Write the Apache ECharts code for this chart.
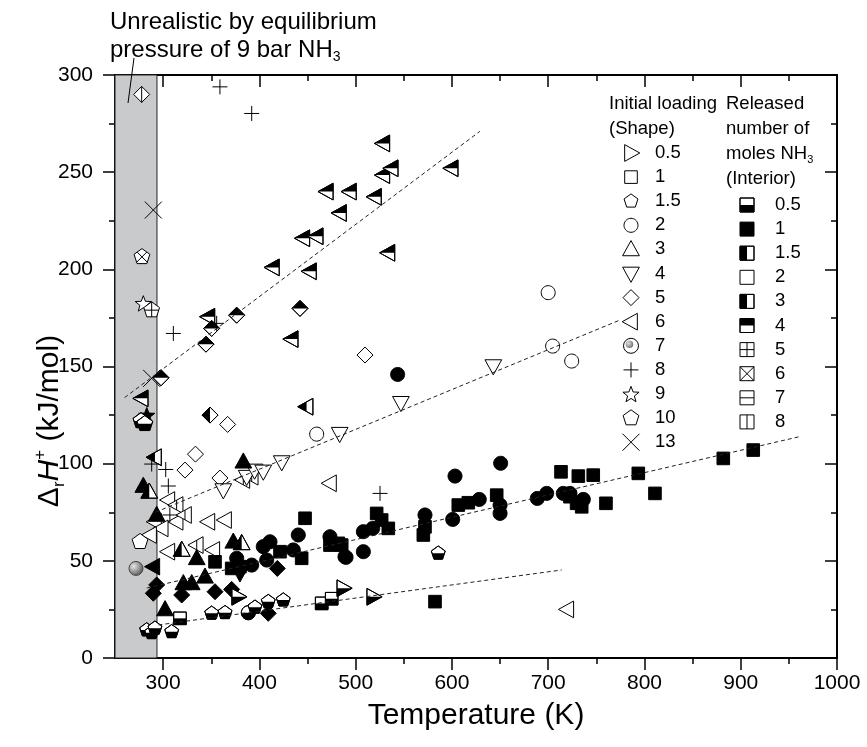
<!DOCTYPE html>
<html>
<head>
<meta charset="utf-8">
<script src="https://cdn.jsdelivr.net/npm/echarts@6/dist/echarts.min.js"></script>
<style>
  html, body { margin: 0; padding: 0; background: #fff; }
  #chart { width: 867px; height: 747px; }
</style>
</head>
<body>
<div id="chart"></div>
<script>
// ─── Data (temperature K, ΔrH+ kJ/mol), grouped by shape + interior ───────

// loading 6 (◁)
const triL_top   = [[414,201],[452.5,199],[445.6,216],[459.5,217],[470,240],[494,240],[483.7,229],[520,237.3],[528.7,248.5],[537.4,252],[528.7,264.8],[599.7,252],[534,208.5],[347,175.6],[433.5,164.1],[277.7,133.6]];
const triL_left  = [[449,129.3],[291.5,103.3]];
const triL_open  = [[473.3,89.9],[347,70.1],[364.3,71],[314,70.1],[291.5,70.1],[298.5,66.7],[286.4,63.3],[305.4,54.7],[352.1,55.6],[305.4,81.3],[719.8,25]];
const triL_vline = [[314,78.7],[322.7,73.6],[334.9,58.1],[383.3,91.6],[392,93.3]];
const triL_full  = [[289.8,47]];
// loading 5 (◇)
const diam_top   = [[442.2,179.9],[350.4,169.6],[376.4,176.4],[344.5,161.5],[297.8,144.2]];
const diam_left  = [[348.7,125]];
const diam_open  = [[367,120.2],[509.7,155.9],[333.6,104.9],[322.7,96.7],[359,92.6]];
const diam_full  = [[293.3,37.6],[289.8,33.3],[319.3,32.4],[353.9,34.1],[371.2,35.3],[409.2,23],[418.6,46.1]];
const diam_vline = [[277.7,290]];
// loading 2 (○)
const circ_open  = [[700,188],[704.6,160.5],[724.4,152.8],[459.5,115.2]];
const circ_full  = [[543.6,145.9],[603.2,93.6],[650.6,100.2],[473.3,62.4],[490,51.8],[508,54.7],[508,65],[517.7,66.7],[572,73.6],[600.8,71.3],[628.4,81.6],[650,78.7],[650,74.4],[688.7,82.1],[698.4,84.7],[715.7,84.7],[722.6,84.7],[736.5,81.6],[404,57.3],[411,59.8],[440.4,63.3],[488.9,52.1],[376.4,51.3],[392,47.8],[435.2,55.6],[407.6,50.4]];
const circ_bottom = [[388.5,23.3]];
// loading 4 (▽)
const triD_open  = [[362.5,86.4],[386.8,93.3],[395,96.5],[404,96],[423.2,100.8],[483.4,115.4],[547,131.3],[643,150.2]];
const triD_full  = [[379.8,43.6]];
// loading 3 (△)
const triU_full  = [[383.3,101],[279.4,88.5],[293.3,73.6],[334.9,51.3],[372.9,59.8],[321,38.4],[329.7,38.4],[343.5,41.8],[302,25]];
const triU_left  = [[285.6,85.5],[381.6,59],[319.3,55.6]];
// loading 1 (□)
const sq_full    = [[713.3,95.8],[731.3,93.6],[746.8,94.1],[485.5,58.1],[521.8,74.4],[527,71],[533.9,66.7],[572,67.5],[570.3,63.3],[606.6,78.7],[617,79.9],[646.5,83.8],[722.6,83],[729.5,79.6],[734.8,77.8],[760,79.6],[582.4,29],[793.6,95],[881.9,102.7],[913,107],[810.9,84.7],[421.4,54.7],[443.9,51.3],[447.4,71.9],[473.3,58.1],[482,59],[353.9,49.5],[371.2,46.1],[379.8,47]];
const sq_bottom  = [[317.5,20.4],[464.7,28.1],[475.1,30.5]];
// loading 0.5 (▷)
const triR_bottom = [[487.2,35.9],[518.3,31.5],[378,31.5]];
// loading 1.5 (small pentagon)
const pent_bottom = [[282.9,14.4],[288.1,13],[291.5,15.3],[308.9,13.5],[350.4,23],[364.3,23.3],[395.4,26.1],[409.2,29],[424.8,29.8],[585.8,53.9]];
// loading 7, 8, 9, 10, 13
const ballPts     = [[271.8,46.1]];
const plusPts     = [[359,293.9],[392,280.2],[355.6,172.2],[310.6,167],[288.1,99.8],[302.7,97],[305.4,88.5],[307,73.6],[525.3,84.7]];
const star_open   = [[279.4,182.5]];
const star_full   = [[283,125]];
const pent10_plus = [[288.1,179]];
const pent10_x    = [[278,206.4]];
const pent10_open = [[276,59.8]];
const pent10_bottom = [[277,122],[281,120.5]];
const crossPts    = [[289.8,230.5],[288.1,143.9]];

// dashed linear trends
const trend1 = [[260,134],[629,271]];
const trend2 = [[292,75],[775,174]];
const trend3 = [[283,36],[962,114]];
const trend4 = [[295,17],[714,45.3]];

// shaded "unrealistic" temperature band
const bandX = [250, 293.6];

const xMajor = [300,400,500,600,700,800,900,1000];
const xMinor = [350,450,550,650,750,850,950];

const loadingLegend = [
  ['triRight','0.5'],['square','1'],['pentS','1.5'],['circle','2'],['triUp','3'],['triDown','4'],
  ['diamond','5'],['triLeft','6'],['ring','7'],['plus','8'],['star','9'],['pentagon','10'],['cross','13']
];
const interiorLegend = [
  ['bottom','0.5'],['full','1'],['left','1.5'],['none','2'],['left','3'],['top','4'],
  ['plus','5'],['x','6'],['hline','7'],['vline','8']
];

// ─── Marker geometry ──────────────────────────────────────────────────────

const FONT = '"Liberation Sans", Arial, sans-serif';

function regPoly(n, r, rot) {
  const pts = [];
  for (let i = 0; i < n; i++) {
    const a = rot + 2 * Math.PI * i / n;
    pts.push([r * Math.cos(a), r * Math.sin(a)]);
  }
  return pts;
}

function starPoly(r) {
  const pts = [];
  for (let i = 0; i < 10; i++) {
    const a = -Math.PI / 2 + Math.PI * i / 5;
    const rr = i % 2 ? r * 0.42 : r;
    pts.push([rr * Math.cos(a), rr * Math.sin(a) + r * 0.1]);
  }
  return pts;
}

const SHAPES = {
  square:   r => [[-r,-r],[r,-r],[r,r],[-r,r]],
  diamond:  r => [[0,-r],[r,0],[0,r],[-r,0]],
  triUp:    r => [[0,-r],[r*0.95,r*0.72],[-r*0.95,r*0.72]],
  triDown:  r => [[0,r],[r*0.95,-r*0.72],[-r*0.95,-r*0.72]],
  triLeft:  r => [[-r,0],[r*0.72,-r*0.95],[r*0.72,r*0.95]],
  triRight: r => [[r,0],[-r*0.72,-r*0.95],[-r*0.72,r*0.95]],
  pentagon: r => regPoly(5, r, -Math.PI / 2),
  pentS:    r => regPoly(5, r, -Math.PI / 2),
  circle:   r => regPoly(36, r, 0),
  star:     r => starPoly(r)
};

const HALF = {
  bottom: p => -p[1],
  top:    p => p[1],
  left:   p => p[0]
};

// Sutherland–Hodgman against one half-plane (keep test(p) <= 0)
function clipPoly(poly, test) {
  const out = [];
  for (let i = 0; i < poly.length; i++) {
    const a = poly[i], b = poly[(i + 1) % poly.length];
    const fa = test(a), fb = test(b);
    if (fa <= 0) out.push(a);
    if ((fa < 0 && fb > 0) || (fa > 0 && fb < 0)) {
      const t = fa / (fa - fb);
      out.push([a[0] + t * (b[0] - a[0]), a[1] + t * (b[1] - a[1])]);
    }
  }
  return out;
}

// distance from centre to polygon edge along direction d
function rayHit(poly, d) {
  let best = 0;
  for (let i = 0; i < poly.length; i++) {
    const a = poly[i], b = poly[(i + 1) % poly.length];
    const e = [b[0] - a[0], b[1] - a[1]];
    const den = d[0] * e[1] - d[1] * e[0];
    if (Math.abs(den) < 1e-9) continue;
    const t = (a[0] * e[1] - a[1] * e[0]) / den;
    const s = (a[0] * d[1] - a[1] * d[0]) / den;
    if (t > 0 && s >= -1e-6 && s <= 1 + 1e-6) best = Math.max(best, t);
  }
  return best;
}

const LINE_DIRS = {
  plus:  [[1,0],[0,1]],
  x:     [[1,1],[1,-1]],
  hline: [[1,0]],
  vline: [[0,1]]
};

function seg(x1, y1, x2, y2, w) {
  return { type: 'line', shape: { x1, y1, x2, y2 }, style: { stroke: '#000', lineWidth: w || 1 } };
}

function markerEls(shape, fill, r) {
  if (shape === 'plus') return [seg(-r, 0, r, 0), seg(0, -r, 0, r)];
  if (shape === 'cross') return [seg(-r, -r, r, r), seg(-r, r, r, -r)];
  if (shape === 'ball') {
    return [{ type: 'circle', shape: { cx: 0, cy: 0, r },
      style: { stroke: '#444', lineWidth: 1,
        fill: new echarts.graphic.RadialGradient(0.35, 0.35, 0.75, [
          { offset: 0, color: '#e6e6e6' }, { offset: 1, color: '#4a4a4a' }]) } }];
  }
  if (shape === 'ring') {
    return [
      { type: 'circle', shape: { cx: 0, cy: 0, r }, style: { fill: '#fff', stroke: '#000', lineWidth: 1 } },
      { type: 'circle', shape: { cx: -r * 0.2, cy: -r * 0.2, r: r * 0.5 },
        style: { fill: new echarts.graphic.RadialGradient(0.35, 0.35, 0.75, [
          { offset: 0, color: '#e0e0e0' }, { offset: 1, color: '#6a6a6a' }]) } }
    ];
  }
  const poly = SHAPES[shape](r);
  const els = [{ type: 'polygon', shape: { points: poly },
    style: { fill: fill === 'full' ? '#000' : '#fff', stroke: '#000', lineWidth: 1 } }];
  if (HALF[fill]) {
    els.push({ type: 'polygon', shape: { points: clipPoly(poly, HALF[fill]) }, style: { fill: '#000' } });
    els.push({ type: 'polygon', shape: { points: poly }, style: { fill: null, stroke: '#000', lineWidth: 1 } });
  }
  if (LINE_DIRS[fill]) {
    LINE_DIRS[fill].forEach(d => {
      const n = Math.hypot(d[0], d[1]);
      const u = [d[0] / n, d[1] / n];
      const t1 = rayHit(poly, u), t2 = rayHit(poly, [-u[0], -u[1]]);
      els.push(seg(u[0] * t1, u[1] * t1, -u[0] * t2, -u[1] * t2));
    });
  }
  return els;
}

const SIZE = {
  square: 6.3, diamond: 8, triUp: 8.8, triDown: 8.8, triLeft: 8.8, triRight: 8.8,
  pentagon: 8.3, pentS: 7.3, circle: 7, star: 8.5, plus: 7.5, cross: 8.5, ball: 7, ring: 7.5
};

// ─── Series ───────────────────────────────────────────────────────────────

function markerSeries(shape, fill, pts) {
  return {
    type: 'custom',
    coordinateSystem: 'cartesian2d',
    data: pts,
    z: 3,
    renderItem: (params, api) => {
      const p = api.coord([api.value(0), api.value(1)]);
      return { type: 'group', x: p[0], y: p[1], children: markerEls(shape, fill, SIZE[shape]) };
    }
  };
}

function trendSeries(pts) {
  return {
    type: 'line', data: pts, symbol: 'none', z: 4, silent: true,
    lineStyle: { color: '#222', width: 1, type: [4, 3] }
  };
}

const groups = [
  ['triLeft','top',triL_top], ['triLeft','left',triL_left], ['triLeft','none',triL_open],
  ['triLeft','vline',triL_vline], ['triLeft','full',triL_full],
  ['diamond','top',diam_top], ['diamond','left',diam_left], ['diamond','none',diam_open],
  ['diamond','full',diam_full], ['diamond','vline',diam_vline],
  ['circle','none',circ_open], ['circle','full',circ_full], ['circle','bottom',circ_bottom],
  ['triDown','none',triD_open], ['triDown','full',triD_full],
  ['triUp','full',triU_full], ['triUp','left',triU_left],
  ['square','full',sq_full], ['square','bottom',sq_bottom],
  ['triRight','bottom',triR_bottom], ['pentS','bottom',pent_bottom],
  ['ball','full',ballPts], ['plus','none',plusPts],
  ['star','none',star_open], ['star','full',star_full],
  ['pentagon','plus',pent10_plus], ['pentagon','x',pent10_x], ['pentagon','none',pent10_open],
  ['pentagon','bottom',pent10_bottom], ['cross','none',crossPts]
];

const bandSeries = {
  type: 'line', data: [], silent: true,
  markArea: {
    silent: true,
    itemStyle: { color: '#c9cacc', borderColor: '#222', borderWidth: 1 },
    data: [[{ xAxis: bandX[0], yAxis: 0 }, { xAxis: bandX[1], yAxis: 300 }]]
  }
};

// ─── Axes ─────────────────────────────────────────────────────────────────

const axisLine = { show: true, onZero: false, lineStyle: { color: '#000', width: 2 } };
const tickStyle = { color: '#000', width: 1.5 };

function xAxisDef(position, values, len, labels) {
  return {
    type: 'value', min: 250, max: 1000, position,
    axisLine: labels || position === 'top' ? axisLine : { show: false },
    axisTick: { show: true, customValues: values, length: len, inside: position === 'top', lineStyle: tickStyle },
    axisLabel: labels
      ? { show: true, customValues: values, margin: 15, fontSize: 21, color: '#000', fontFamily: FONT, formatter: v => String(v) }
      : { show: false },
    splitLine: { show: false }
  };
}

function yAxisDef(position) {
  const left = position === 'left';
  return {
    type: 'value', min: 0, max: 300, interval: 50, position,
    axisLine,
    axisTick: { show: true, length: 12, inside: !left, lineStyle: tickStyle },
    minorTick: { show: true, splitNumber: 2, length: 6, lineStyle: tickStyle },
    axisLabel: left
      ? { show: true, margin: 22, fontSize: 21, color: '#000', fontFamily: FONT }
      : { show: false },
    splitLine: { show: false },
    minorSplitLine: { show: false }
  };
}

// ─── Legend + annotation (graphic) ────────────────────────────────────────

const LF = 18.5;
const txt = (x, y, text, size, extra) => ({
  type: 'text', x, y, z: 10,
  style: Object.assign({ text, fontSize: size || LF, fontFamily: FONT, fill: '#000', verticalAlign: 'middle' }, extra || {})
});

const graphics = [];
graphics.push(txt(609, 104, 'Initial loading'));
graphics.push(txt(609, 129, '(Shape)'));
loadingLegend.forEach(([shape, label], i) => {
  const y = 153 + i * 24.1;
  graphics.push({ type: 'group', x: 631, y, z: 10, children: markerEls(shape, 'none', SIZE[shape]) });
  graphics.push(txt(655, y, label));
});
graphics.push(txt(726, 104, 'Released'));
graphics.push(txt(726, 129, 'number of'));
graphics.push(txt(726, 154, '{a|moles NH}{s|3}', LF, {
  rich: { a: { fontSize: LF, fontFamily: FONT, lineHeight: 22 }, s: { fontSize: 11, fontFamily: FONT, verticalAlign: 'bottom', lineHeight: 11 } }
}));
graphics.push(txt(726, 179, '(Interior)'));
interiorLegend.forEach(([fill, label], i) => {
  const y = 205 + i * 24.1;
  graphics.push({ type: 'group', x: 747, y, z: 10, children: markerEls('square', fill, 7) });
  graphics.push(txt(775, y, label));
});

graphics.push(txt(110, 22, 'Unrealistic by equilibrium', 24));
graphics.push(txt(110, 50, '{a|pressure of 9 bar NH}{s|3}', 24, {
  rich: { a: { fontSize: 24, fontFamily: FONT, lineHeight: 28 }, s: { fontSize: 14, fontFamily: FONT, verticalAlign: 'bottom', lineHeight: 14 } }
}));
graphics.push({ type: 'line', z: 10, shape: { x1: 134, y1: 58, x2: 128, y2: 103 }, style: { stroke: '#000', lineWidth: 1 } });

graphics.push({
  type: 'text', x: 50, y: 421, rotation: Math.PI / 2, z: 10,
  style: {
    text: '{a|Δ}{s|r}{i|H}{p|+}{a| (kJ/mol)}', align: 'center', verticalAlign: 'middle',
    rich: {
      a: { fontSize: 30, fontFamily: FONT, lineHeight: 36 },
      i: { fontSize: 30, fontFamily: FONT, fontStyle: 'italic', lineHeight: 36 },
      s: { fontSize: 17, fontFamily: FONT, verticalAlign: 'bottom', lineHeight: 17 },
      p: { fontSize: 17, fontFamily: FONT, verticalAlign: 'top', lineHeight: 17 }
    }
  }
});

// ─── Chart ────────────────────────────────────────────────────────────────

const chart = echarts.init(document.getElementById('chart'));

chart.setOption({
  animation: false,
  backgroundColor: '#fff',
  grid: { left: 115, right: 30, top: 75, bottom: 89 },
  xAxis: [
    Object.assign(xAxisDef('bottom', xMajor, 12, true), {
      name: 'Temperature (K)', nameLocation: 'middle', nameGap: 43,
      nameTextStyle: { fontSize: 30, color: '#000', fontFamily: FONT }
    }),
    xAxisDef('bottom', xMinor, 6, false),
    xAxisDef('top', xMajor, 12, false),
    xAxisDef('top', xMinor, 6, false)
  ],
  yAxis: [yAxisDef('left'), yAxisDef('right')],
  series: [bandSeries]
    .concat(groups.map(([shape, fill, pts]) => markerSeries(shape, fill, pts)))
    .concat([trend1, trend2, trend3, trend4].map(trendSeries)),
  graphic: graphics
});
</script>
</body>
</html>
